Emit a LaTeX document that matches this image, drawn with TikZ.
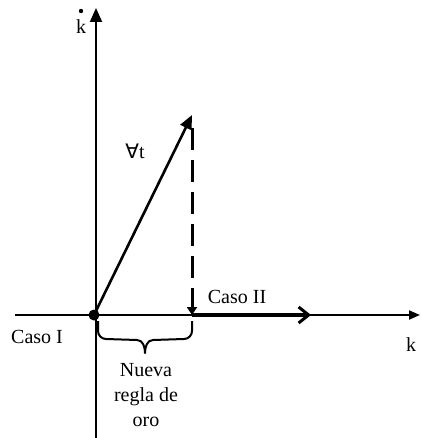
\documentclass[tikz,border=0pt]{standalone}
\usepackage{fontspec}
\setmainfont{Liberation Serif}
\newfontfamily\symfont{DejaVu Sans}
\usetikzlibrary{arrows.meta,calc}
\begin{document}
\begin{tikzpicture}[x=1pt,y=-1pt,
  axis/.style={line width=2pt},
  lbl/.style={font=\fontsize{20}{25}\selectfont, inner sep=0pt, align=center},
  bracestyle/.style={line width=2pt, line join=round}]
\useasboundingbox (0,0) rectangle (420,438);
\coordinate (O) at (94,315);
\coordinate (Ytop) at (96,8);
\coordinate (Ybot) at (96,438);
\coordinate (Xl) at (15,315);
\coordinate (Xr) at (420,315);
\coordinate (P) at (192,115);
\coordinate (Pd) at (192,128);
\coordinate (F) at (192,315);
\coordinate (E) at (311,315);
\coordinate (B1) at (98,321);
\coordinate (B2) at (192,321);
\coordinate (BT) at (145,353);
\draw[axis,-{Triangle[length=14pt,width=12pt]}] (Ybot) -- (Ytop);
\draw[axis,-{Triangle[length=11pt,width=9pt]}] (Xl) -- (Xr);
\draw[line width=2.6pt,-{Triangle[length=14pt,width=12pt]}] (O) -- (P);
\draw[line width=3pt,dash pattern=on 22pt off 10pt,-{Triangle[length=8pt,width=10pt]}] (Pd) -- (F);
\draw[line width=3.5pt,-{Straight Barb[length=10pt,width=16pt,line width=3pt]}] (F) -- (E);
\fill (O) circle (5.5pt);
\draw[bracestyle] (B1) -- ++(0,10) to[out=-90,in=180] ++(8,8) -- ($(BT)+(-8,-13)$);
\draw[bracestyle] (B2) -- ++(0,10) to[out=-90,in=0] ++(-8,8) -- ($(BT)+(8,-13)$);
\draw[bracestyle] ($(BT)+(-8,-13)$) to[out=0,in=90] (BT) to[out=90,in=180] ($(BT)+(8,-13)$);
\node[lbl] (nueva) at (146,395) {Nueva\\regla de\\oro};
\node[lbl] (caso1) at (37,337) {Caso I};
\node[lbl] (caso2) at (237,297) {Caso II};
\node[lbl] (kx) at (411,345) {k};
\node[lbl] (ky) at (81,27) {k};
\fill (81,11) circle (2.2pt);
\node[lbl] (forall) at (135,151) {{\symfont ∀}t};
\end{tikzpicture}
\end{document}
